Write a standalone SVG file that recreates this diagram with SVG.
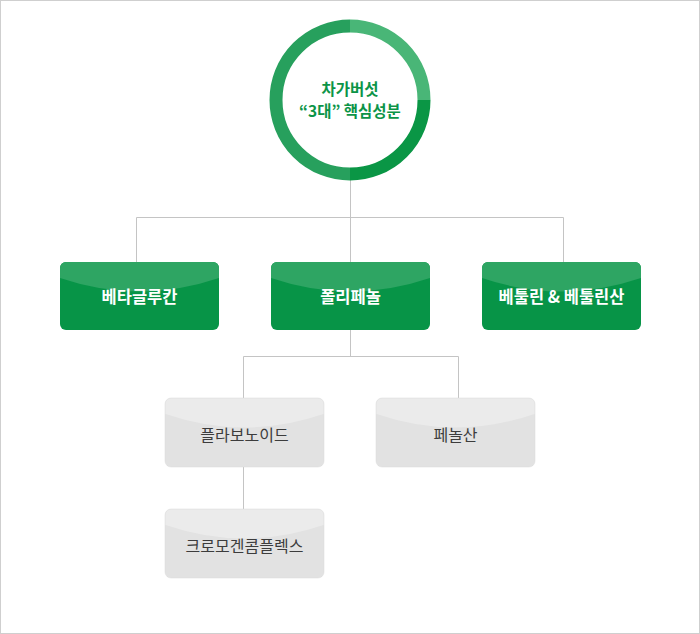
<svg xmlns="http://www.w3.org/2000/svg" width="700" height="634" viewBox="0 0 700 634">
<style>
.frame{fill:#fff;stroke:#cfcfcf;stroke-width:1}
.conn{fill:none;stroke:#c4c4c4;stroke-width:1}
.gbox{fill:#079447}
.ghi{fill:#2ea563}
.gybox{fill:#e2e2e2;stroke:#dadada;stroke-width:0.5}
.gyhi{fill:#ebebeb}
.t{font-family:"Noto Sans CJK KR","Noto Sans",sans-serif;text-anchor:middle;dominant-baseline:central}
.tw{fill:#fff;font-size:16.5px;font-weight:bold}
.tg{fill:#3c3c3c;font-size:16px}
.tc{fill:#0c9447;font-size:15.5px;font-weight:bold}
</style>
<rect class="frame" x="0.5" y="0.5" width="699" height="633"/>
<g id="connectors">
<path class="conn" d="M350.5 180 V217.5 M136.5 262 V217.5 H563.5 V262 M350.5 217.5 V262"/>
<path class="conn" d="M350.5 330 V356.5 M243.5 398 V356.5 H458.5 V398"/>
<path class="conn" d="M243.5 467 V509"/>
</g>
<g id="root">
<circle cx="350" cy="100" r="68" fill="#fff"/>
<path d="M350 26 A74 74 0 0 0 350 174" fill="none" stroke="#27a05d" stroke-width="13"/>
<path d="M350 26 A74 74 0 0 1 424 100" fill="none" stroke="#49b677" stroke-width="13"/>
<path d="M424 100 A74 74 0 0 1 350 174" fill="none" stroke="#0a9645" stroke-width="13"/>
<text class="t tc" x="350" y="88">차가버섯</text>
<text class="t tc" x="350" y="110">“3대” 핵심성분</text>
</g>
<g id="betaglucan">
<rect class="gbox" x="60" y="262" width="159" height="68" rx="6"/>
<path class="ghi" d="M60 278 V268 A6 6 0 0 1 66 262 H213 A6 6 0 0 1 219 268 V278 Q139.5 305 60 278 Z"/>
<text class="t tw" x="139.5" y="296">베타글루칸</text>
</g>
<g id="polyphenol">
<rect class="gbox" x="271" y="262" width="159" height="68" rx="6"/>
<path class="ghi" d="M271 278 V268 A6 6 0 0 1 277 262 H424 A6 6 0 0 1 430 268 V278 Q350.5 305 271 278 Z"/>
<text class="t tw" x="350.5" y="296">폴리페놀</text>
</g>
<g id="betulin">
<rect class="gbox" x="482" y="262" width="159" height="68" rx="6"/>
<path class="ghi" d="M482 278 V268 A6 6 0 0 1 488 262 H635 A6 6 0 0 1 641 268 V278 Q561.5 305 482 278 Z"/>
<text class="t tw" x="561.5" y="296">베툴린 &amp; 베툴린산</text>
</g>
<g id="flavonoid">
<rect class="gybox" x="165" y="398" width="159" height="69" rx="6"/>
<path class="gyhi" d="M165.5 414 V404 A6 6 0 0 1 171 398.5 H318 A6 6 0 0 1 323.5 404 V414 Q244.5 441 165.5 414 Z"/>
<text class="t tg" x="244.5" y="434">플라보노이드</text>
</g>
<g id="phenolic">
<rect class="gybox" x="376" y="398" width="159" height="69" rx="6"/>
<path class="gyhi" d="M376.5 414 V404 A6 6 0 0 1 382 398.5 H529 A6 6 0 0 1 534.5 404 V414 Q455.5 441 376.5 414 Z"/>
<text class="t tg" x="455.5" y="434">페놀산</text>
</g>
<g id="chromogen">
<rect class="gybox" x="165" y="509" width="159" height="69" rx="6"/>
<path class="gyhi" d="M165.5 525 V515 A6 6 0 0 1 171 509.5 H318 A6 6 0 0 1 323.5 515 V525 Q244.5 552 165.5 525 Z"/>
<text class="t tg" x="244.5" y="545">크로모겐콤플렉스</text>
</g>
</svg>
